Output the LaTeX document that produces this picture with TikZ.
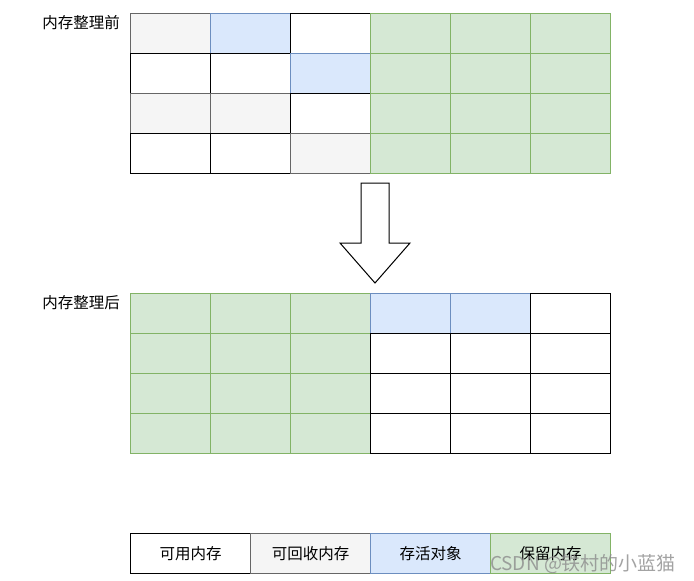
\documentclass[tikz,border=0pt]{standalone}
\usepackage{fontspec}
\setmainfont{Noto Sans CJK SC}
\newfontfamily\wmfont{Noto Sans CJK SC}
\definecolor{grayF}{HTML}{F5F5F5}
\definecolor{grayS}{HTML}{666666}
\definecolor{blueF}{HTML}{DAE8FC}
\definecolor{blueS}{HTML}{6C8EBF}
\definecolor{greenF}{HTML}{D5E8D4}
\definecolor{greenS}{HTML}{82B366}
\begin{document}
\begin{tikzpicture}[x=1pt,y=-1pt,
  cell/.style={draw, line width=1pt, minimum width=80pt, minimum height=40pt, inner sep=0pt, anchor=north west, font=\fontsize{15.5}{17}\selectfont},
  W/.style={cell, fill=white, draw=black},
  G/.style={cell, fill=grayF, draw=grayS},
  B/.style={cell, fill=blueF, draw=blueS},
  N/.style={cell, fill=greenF, draw=greenS},
  lg/.style={minimum width=120pt},
  lbl/.style={anchor=east, font=\fontsize{15.5}{17}\selectfont, inner sep=0pt}]
\useasboundingbox (0,0) rectangle (694,581);
% top grid
\foreach \r/\row in {0/{G,B,W,N,N,N},1/{W,W,B,N,N,N},2/{G,G,W,N,N,N},3/{W,W,G,N,N,N}}{
  \foreach \s [count=\c from 0] in \row {
    \node[\s] (t\r\c) at (130+80*\c, 13+40*\r) {};
  }
}
% bottom grid
\foreach \r/\row in {0/{N,N,N,B,B,W},1/{N,N,N,W,W,W},2/{N,N,N,W,W,W},3/{N,N,N,W,W,W}}{
  \foreach \s [count=\c from 0] in \row {
    \node[\s] (b\r\c) at (130+80*\c, 293+40*\r) {};
  }
}
\node[lbl] (l1) at (120,23) {内存整理前};
\node[lbl] (l2) at (120,303) {内存整理后};
% arrow
\draw[line width=1pt, fill=white] (361,183) -- (389,183) -- (389,243) -- (410,243) -- (375,283) -- (340,243) -- (361,243) -- cycle;
% legend
\node[W, lg] (k1) at (130,533) {可用内存};
\node[G, lg] (k2) at (250,533) {可回收内存};
\node[B, lg] (k3) at (370,533) {存活对象};
\node[N, lg] (k4) at (490,533) {保留内存};
\node[anchor=center, text=black!45, opacity=0.8, font=\fontsize{19}{21}\selectfont\wmfont] (wm) at (583,564) {CSDN @铁村的小蓝猫};
\end{tikzpicture}
\end{document}
